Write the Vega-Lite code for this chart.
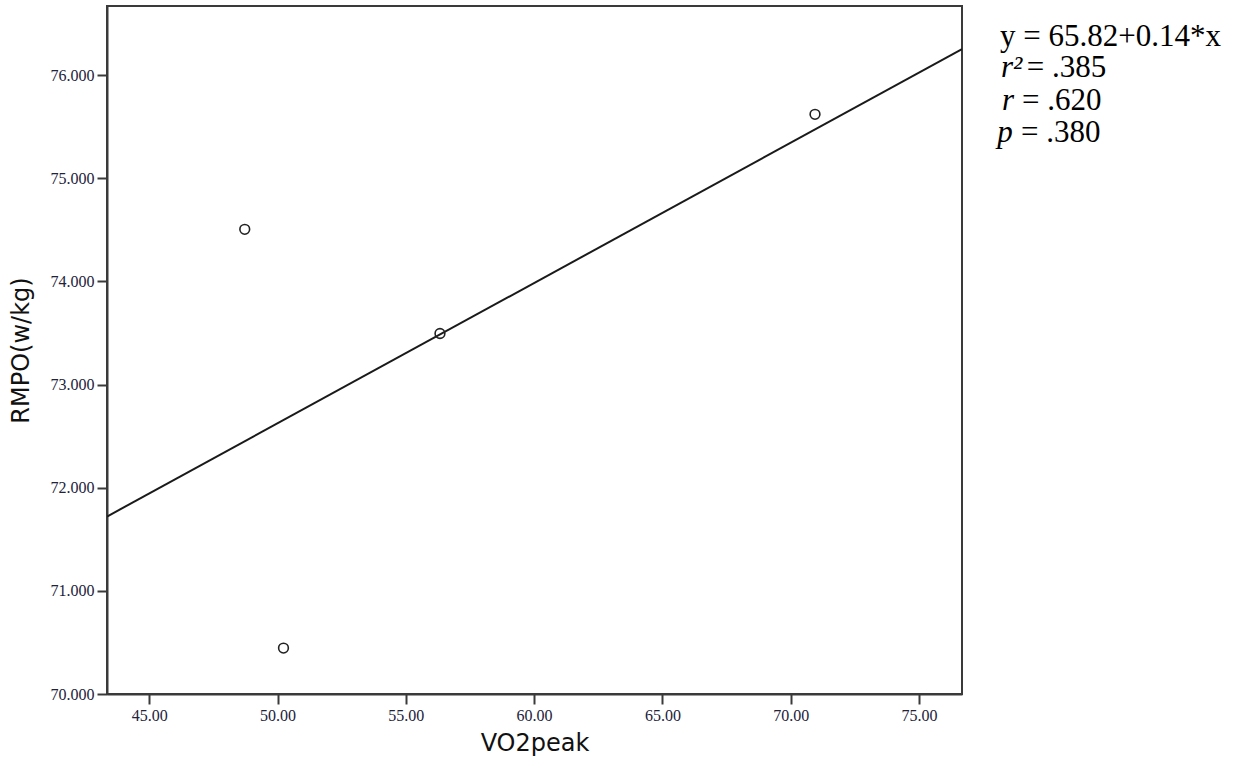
{
  "$schema": "https://vega.github.io/schema/vega-lite/v6.json",
  "autosize": {"type": "none"},
  "padding": {"left": 107, "top": 6, "right": 284, "bottom": 75},
  "width": 855,
  "height": 688,
  "background": "white",
  "config": {
    "view": {"stroke": "#3a3a3a", "strokeWidth": 2},
    "axis": {
      "grid": false,
      "domainColor": "#3a3a3a",
      "domainWidth": 2,
      "tickColor": "#3a3a3a",
      "tickWidth": 2,
      "tickSize": 10,
      "labelFont": "Liberation Serif",
      "labelFontSize": 16,
      "labelColor": "#22223a",
      "titleFont": "DejaVu Sans",
      "titleFontSize": 24,
      "titleFontWeight": "normal",
      "titleColor": "#111111"
    }
  },
  "datasets": {
    "pts": [
      {"vo2": 48.72, "rmpo": 74.505},
      {"vo2": 50.23, "rmpo": 70.445},
      {"vo2": 56.33, "rmpo": 73.495},
      {"vo2": 70.95, "rmpo": 75.62}
    ],
    "ann": [
      {"label": "y = 65.82+0.14*x", "kind": "expr", "vx": 78.16, "vy": 76.279},
      {"label": "r²", "kind": "sym", "vx": 78.2, "vy": 75.979},
      {"label": "= .385", "kind": "expr", "vx": 79.2, "vy": 75.979},
      {"label": "r", "kind": "sym", "vx": 78.24, "vy": 75.659},
      {"label": "= .620", "kind": "expr", "vx": 79.02, "vy": 75.659},
      {"label": "p", "kind": "sym", "vx": 78.05, "vy": 75.349},
      {"label": "= .380", "kind": "expr", "vx": 78.98, "vy": 75.349}
    ]
  },
  "layer": [
    {
      "data": {"name": "pts"},
      "transform": [{"regression": "rmpo", "on": "vo2", "extent": [43.35, 76.68]}],
      "mark": {"type": "line", "color": "#1a1a1a", "strokeWidth": 2, "clip": true},
      "encoding": {
        "x": {"field": "vo2", "type": "quantitative", "scale": {"domain": [43.35, 76.68], "nice": false, "zero": false},
              "axis": {"title": "VO2peak", "values": [45, 50, 55, 60, 65, 70, 75], "format": ".2f", "labelPadding": 3, "titlePadding": 8}},
        "y": {"field": "rmpo", "type": "quantitative", "scale": {"domain": [70, 76.67], "nice": false, "zero": false},
              "axis": {"title": "RMPO(w/kg)", "values": [70, 71, 72, 73, 74, 75, 76], "format": ".3f", "labelPadding": 3, "titlePadding": 17}}
      }
    },
    {
      "data": {"name": "pts"},
      "mark": {"type": "point", "shape": "circle", "filled": false, "size": 95, "stroke": "#222222", "strokeWidth": 1.6, "opacity": 1},
      "encoding": {
        "x": {"field": "vo2", "type": "quantitative"},
        "y": {"field": "rmpo", "type": "quantitative"}
      }
    },
    {
      "data": {"name": "ann"},
      "transform": [{"filter": "datum.kind === 'expr'"}],
      "mark": {"type": "text", "align": "left", "baseline": "alphabetic", "font": "Liberation Serif", "fontSize": 31, "color": "#000000", "clip": false},
      "encoding": {
        "x": {"field": "vx", "type": "quantitative"},
        "y": {"field": "vy", "type": "quantitative"},
        "text": {"field": "label"}
      }
    },
    {
      "data": {"name": "ann"},
      "transform": [{"filter": "datum.kind === 'sym'"}],
      "mark": {"type": "text", "align": "left", "baseline": "alphabetic", "font": "Liberation Serif", "fontStyle": "italic", "fontSize": 31, "color": "#000000", "clip": false},
      "encoding": {
        "x": {"field": "vx", "type": "quantitative"},
        "y": {"field": "vy", "type": "quantitative"},
        "text": {"field": "label"}
      }
    }
  ]
}
